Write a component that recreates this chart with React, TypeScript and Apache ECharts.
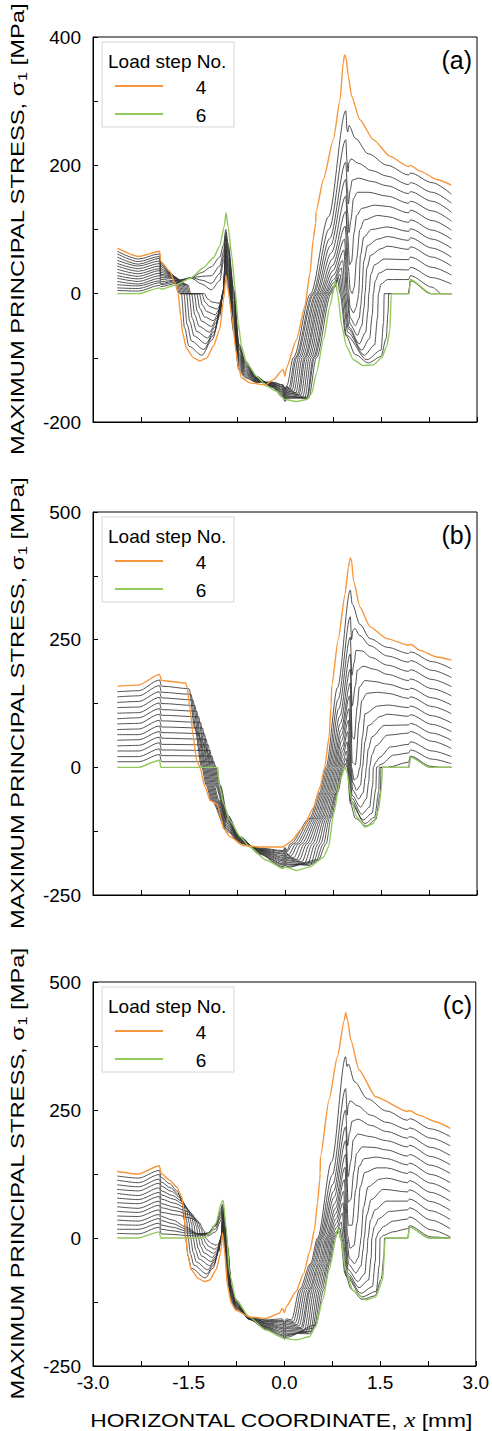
import React, { useEffect, useRef } from 'react';
import * as echarts from 'echarts';

// ---------- tick labels ----------
const X_LABELS = [-3, -1.5, 0, 1.5, 3];
const Y_LABELS_A = [-200, 0, 200, 400];
const Y_LABELS_BC = [-250, 0, 250, 500];
const LEGEND_STEPS = ['4', '6'];

// ---------- panel (a) ----------
const ORANGE_A = [[-2.62,71],[-2.29,58],[-1.96,66],[-1.94,50],[-1.80,35],[-1.72,17],[-1.67,1],[-1.63,-35],[-1.60,-61],[-1.54,-85],[-1.43,-100],[-1.33,-105],[-1.22,-100],[-1.12,-82],[-1.02,-56],[-0.96,-9],[-0.92,28],[-0.89,6],[-0.83,-35],[-0.77,-87],[-0.73,-113],[-0.68,-131],[-0.55,-139],[-0.31,-142],[-0.18,-134],[-0.03,-118],[0,-129],[0.02,-116],[0.18,-72],[0.31,-20],[0.39,32],[0.44,84],[0.48,110],[0.485,128],[0.6,178],[0.755,240],[0.86,302],[0.91,360],[0.93,372],[0.95,370],[0.99,339],[1.04,308],[1.17,271],[1.38,240],[1.64,214],[1.93,198],[1.96,200],[2.11,191],[2.37,178],[2.6,169]];
const GREEN_A = [[-2.62,0],[-2.29,0],[-1.96,9],[-1.93,7],[-1.69,14],[-1.48,24],[-1.28,40],[-1.12,56],[-1.02,74],[-0.95,105],[-0.92,126],[-0.89,105],[-0.83,58],[-0.78,6],[-0.73,-46],[-0.68,-82],[-0.60,-108],[-0.44,-129],[-0.29,-144],[-0.13,-152],[0,-165],[0.18,-168],[0.34,-165],[0.42,-155],[0.49,-124],[0.6,-72],[0.7,-20],[0.79,19],[0.82,1],[0.89,-51],[0.96,-82],[1.07,-103],[1.22,-112],[1.38,-111],[1.51,-100],[1.59,-82],[1.64,-56],[1.66,0],[1.94,0],[1.96,22],[2.28,0],[2.6,0]];
const GRAY_A = [
[[-2.62,66],[-2.29,54],[-1.96,62],[-1.94,48],[-1.80,33],[-1.70,14],[-1.65,0],[-1.62,0],[-1.57,-53],[-1.50,-82],[-1.30,-96],[-1.14,-72],[-1.015,-34],[-0.975,0],[-0.925,33],[-0.89,11],[-0.80,-60],[-0.72,-119],[-0.62,-131],[-0.45,-138],[-0.2,-138],[-0.03,-142],[0,-148],[0.03,-143],[0.13,-100],[0.40,0],[0.68,120],[0.95,285],[0.97,255],[0.98,252],[1.0,262],[1.1,242],[1.3,218],[1.6,200],[1.93,185],[1.96,188],[2.3,173],[2.6,155]],
[[-2.62,62],[-2.29,50],[-1.96,58],[-1.94,45],[-1.79,32],[-1.68,14],[-1.63,0],[-1.58,0],[-1.53,-48],[-1.46,-74],[-1.27,-87],[-1.12,-65],[-1.014,-30],[-0.974,0],[-0.925,38],[-0.89,16],[-0.80,-55],[-0.72,-116],[-0.62,-129],[-0.45,-138],[-0.2,-138],[-0.03,-143],[0,-149],[0.03,-144],[0.06,-147],[0.16,-100],[0.43,0],[0.69,101],[0.95,240],[0.97,205],[0.985,190],[1.0,205],[1.03,210],[1.15,203],[1.35,192],[1.6,183],[1.93,170],[1.96,173],[2.3,158],[2.6,141]],
[[-2.62,57],[-2.29,46],[-1.96,55],[-1.94,42],[-1.78,31],[-1.66,14],[-1.61,0],[-1.54,0],[-1.49,-43],[-1.42,-66],[-1.24,-78],[-1.105,-59],[-1.013,-27],[-0.973,0],[-0.925,43],[-0.89,21],[-0.80,-50],[-0.72,-113],[-0.62,-127],[-0.45,-137],[-0.2,-139],[-0.03,-145],[0,-151],[0.03,-146],[0.08,-149],[0.18,-100],[0.45,0],[0.70,86],[0.95,205],[0.975,165],[0.99,140],[1.02,162],[1.05,177],[1.15,180],[1.35,175],[1.6,168],[1.93,156],[1.96,159],[2.3,144],[2.6,127]],
[[-2.62,52],[-2.29,43],[-1.96,51],[-1.94,39],[-1.77,30],[-1.64,14],[-1.59,0],[-1.50,0],[-1.45,-38],[-1.38,-59],[-1.21,-69],[-1.09,-52],[-1.012,-24],[-0.972,0],[-0.925,48],[-0.89,26],[-0.80,-45],[-0.72,-110],[-0.62,-125],[-0.45,-136],[-0.2,-140],[-0.03,-146],[0,-152],[0.03,-147],[0.11,-150],[0.21,-100],[0.48,0],[0.71,75],[0.95,178],[0.98,125],[1.0,95],[1.03,115],[1.07,148],[1.13,158],[1.3,158],[1.6,152],[1.93,141],[1.96,144],[2.3,129],[2.6,113]],
[[-2.62,47],[-2.29,39],[-1.96,47],[-1.94,36],[-1.76,29],[-1.62,14],[-1.57,0],[-1.46,0],[-1.41,-33],[-1.34,-51],[-1.18,-60],[-1.075,-45],[-1.011,-21],[-0.971,0],[-0.925,53],[-0.89,31],[-0.80,-40],[-0.72,-107],[-0.62,-123],[-0.45,-136],[-0.2,-140],[-0.03,-148],[0,-154],[0.03,-149],[0.14,-152],[0.24,-100],[0.50,0],[0.725,64],[0.95,152],[0.98,90],[1.01,45],[1.04,50],[1.08,95],[1.12,122],[1.2,133],[1.4,138],[1.6,136],[1.93,126],[1.96,130],[2.3,114],[2.6,99]],
[[-2.62,43],[-2.29,35],[-1.96,43],[-1.94,33],[-1.75,28],[-1.60,14],[-1.55,0],[-1.42,0],[-1.37,-28],[-1.30,-43],[-1.15,-51],[-1.06,-38],[-1.01,-18],[-0.97,0],[-0.925,58],[-0.89,36],[-0.80,-35],[-0.72,-104],[-0.62,-121],[-0.45,-135],[-0.2,-141],[-0.03,-150],[0,-156],[0.03,-151],[0.17,-154],[0.27,-100],[0.526,0],[0.74,54],[0.95,128],[0.99,40],[1.02,5],[1.05,0],[1.08,10],[1.12,55],[1.17,100],[1.24,115],[1.45,122],[1.6,120],[1.93,111],[1.96,115],[2.3,99],[2.6,85]],
[[-2.62,38],[-2.29,31],[-1.96,39],[-1.94,30],[-1.74,27],[-1.58,14],[-1.53,0],[-1.38,0],[-1.33,-23],[-1.26,-36],[-1.12,-42],[-1.044,-32],[-1.008,-15],[-0.968,0],[-0.925,63],[-0.89,41],[-0.80,-30],[-0.72,-101],[-0.62,-119],[-0.45,-134],[-0.2,-142],[-0.03,-151],[0,-157],[0.03,-152],[0.20,-155],[0.30,-100],[0.55,0],[0.745,44],[0.94,105],[0.99,5],[1.02,-22],[1.07,-30],[1.11,-22],[1.135,-10],[1.15,0],[1.18,60],[1.23,88],[1.35,100],[1.6,104],[1.93,97],[1.96,101],[2.3,85],[2.6,71]],
[[-2.62,33],[-2.29,27],[-1.96,36],[-1.94,28],[-1.73,26],[-1.56,14],[-1.51,0],[-1.34,0],[-1.29,-18],[-1.22,-28],[-1.09,-33],[-1.03,-25],[-1.007,-12],[-0.967,0],[-0.925,68],[-0.89,46],[-0.80,-25],[-0.72,-98],[-0.62,-117],[-0.45,-133],[-0.2,-142],[-0.03,-153],[0,-159],[0.03,-154],[0.22,-157],[0.32,-100],[0.575,0],[0.75,36],[0.93,85],[0.975,0],[1.02,-38],[1.1,-50],[1.16,-38],[1.185,-18],[1.2,0],[1.23,50],[1.29,75],[1.45,85],[1.6,89],[1.93,83],[1.96,87],[2.3,71],[2.6,57]],
[[-2.62,28],[-2.29,23],[-1.96,32],[-1.94,25],[-1.72,25],[-1.54,14],[-1.49,0],[-1.30,0],[-1.25,-13],[-1.18,-20],[-1.06,-24],[-1.013,-18],[-0.995,-8],[-0.966,0],[-0.925,73],[-0.89,51],[-0.80,-20],[-0.72,-95],[-0.62,-115],[-0.45,-133],[-0.2,-143],[-0.03,-154],[0,-160],[0.03,-155],[0.25,-158],[0.35,-100],[0.60,0],[0.76,29],[0.92,68],[0.96,0],[1.02,-48],[1.13,-65],[1.2,-50],[1.235,-22],[1.25,0],[1.28,40],[1.34,60],[1.5,70],[1.6,74],[1.93,69],[1.96,73],[2.3,57],[2.6,43]],
[[-2.62,24],[-2.29,19],[-1.96,28],[-1.94,22],[-1.71,24],[-1.52,14],[-1.47,0],[-1.26,0],[-1.21,-8],[-1.14,-13],[-1.03,-15],[-0.997,-11],[-0.98,-5],[-0.965,0],[-0.925,78],[-0.89,56],[-0.80,-15],[-0.72,-92],[-0.62,-113],[-0.45,-132],[-0.2,-144],[-0.03,-156],[0,-162],[0.03,-157],[0.28,-160],[0.38,-100],[0.623,0],[0.76,22],[0.90,52],[0.94,0],[1.0,-52],[1.16,-78],[1.26,-60],[1.295,-28],[1.31,0],[1.34,30],[1.40,45],[1.55,54],[1.93,53],[1.96,57],[2.3,41],[2.6,29]],
[[-2.62,19],[-2.29,15],[-1.96,24],[-1.94,19],[-1.7,21],[-1.46,24],[-1.3,15],[-1.15,6],[-1.02,20],[-0.96,50],[-0.925,85],[-0.89,63],[-0.80,-8],[-0.72,-87],[-0.62,-111],[-0.45,-131],[-0.2,-144],[-0.03,-158],[0,-164],[0.03,-159],[0.31,-162],[0.41,-100],[0.648,0],[0.76,17],[0.88,40],[0.92,0],[0.99,-55],[1.2,-88],[1.32,-70],[1.365,-32],[1.38,0],[1.41,20],[1.47,32],[1.6,38],[1.93,37],[1.96,41],[2.3,25],[2.6,15]],
[[-2.62,14],[-2.29,12],[-1.96,20],[-1.94,16],[-1.7,20],[-1.46,25],[-1.3,21],[-1.15,16],[-1.02,31],[-0.96,58],[-0.925,90],[-0.89,68],[-0.80,-3],[-0.72,-84],[-0.62,-109],[-0.45,-131],[-0.2,-145],[-0.03,-159],[0,-165],[0.03,-160],[0.34,-163],[0.44,-100],[0.672,0],[0.77,13],[0.86,30],[0.90,0],[0.98,-60],[1.24,-96],[1.40,-80],[1.445,-38],[1.46,0],[1.5,15],[1.6,22],[1.93,22],[1.96,28],[2.3,10],[2.45,0],[2.6,0]],
[[-2.62,9],[-2.29,8],[-1.96,17],[-1.94,14],[-1.7,18],[-1.46,25],[-1.3,27],[-1.15,28],[-1.02,43],[-0.96,66],[-0.925,95],[-0.89,73],[-0.80,2],[-0.72,-81],[-0.62,-107],[-0.45,-130],[-0.2,-145],[-0.03,-161],[0,-167],[0.03,-162],[0.35,-161],[0.46,-100],[0.696,0],[0.77,10],[0.84,25],[0.88,0],[0.96,-65],[1.28,-103],[1.5,-88],[1.54,-45],[1.55,0],[1.93,0],[1.96,20],[2.28,0],[2.6,0]],
[[-2.62,5],[-2.29,4],[-1.96,13],[-1.94,11],[-1.7,16],[-1.46,25],[-1.3,33],[-1.15,42],[-1.02,57],[-0.96,76],[-0.925,100],[-0.89,78],[-0.80,7],[-0.72,-78],[-0.62,-105],[-0.45,-129],[-0.2,-146],[-0.03,-162],[0,-168],[0.03,-163],[0.37,-163],[0.49,-100],[0.72,0],[0.77,9],[0.82,22],[0.86,0],[0.95,-65],[1.1,-95],[1.3,-108],[1.5,-98],[1.58,-70],[1.61,-30],[1.62,0],[1.93,0],[1.96,21],[2.28,0],[2.6,0]]
];

// ---------- panel (b) ----------
const ORANGE_B = [[-2.62,159],[-2.29,161],[-1.96,182],[-1.93,170],[-1.55,165],[-1.53,157],[-1.48,112],[-1.44,66],[-1.38,14],[-1.33,0],[-1.25,-38],[-1.17,-65],[-1.07,-71],[-1.04,-78],[-1.0,-100],[-0.96,-120],[-0.86,-136],[-0.65,-153],[-0.39,-156],[-0.03,-156],[0,-153],[0.08,-146],[0.29,-117],[0.44,-80],[0.55,-38],[0.62,0],[0.69,60],[0.72,120],[0.73,160],[0.83,249],[0.94,340],[0.99,392],[1.02,410],[1.04,405],[1.07,366],[1.17,314],[1.33,275],[1.59,252],[1.93,239],[1.96,241],[2.11,229],[2.37,216],[2.6,210]];
const GREEN_B = [[-2.62,0],[-2.29,0],[-1.96,14],[-1.94,0],[-1.05,0],[-1.04,-20],[-1.02,-38],[-0.96,-71],[-0.86,-104],[-0.70,-136],[-0.55,-156],[-0.29,-182],[-0.03,-198],[0,-195],[0.18,-202],[0.39,-195],[0.6,-176],[0.68,-156],[0.76,-91],[0.86,-25],[0.94,1],[0.97,-10],[1.04,-65],[1.12,-97],[1.25,-117],[1.38,-110],[1.46,-84],[1.51,-38],[1.52,0],[1.94,0],[1.96,20],[2.27,0],[2.6,0]];
const GRAY_B = [
[[-2.62,148],[-2.29,150],[-1.96,171],[-1.93,159],[-1.50,154],[-1.41,77],[-1.30,0],[-1.23,-35],[-1.15,-65],[-0.9,-126],[-0.7,-149],[-0.4,-158],[-0.03,-163],[0,-157],[0.03,-163],[0.083,-150],[0.386,-100],[0.539,-50],[0.641,0],[0.82,156],[1.02,347],[1.05,320],[1.17,280],[1.33,252],[1.6,235],[1.93,223],[1.96,226],[2.3,207],[2.6,193]],
[[-2.62,138],[-2.29,140],[-1.96,160],[-1.93,147],[-1.47,143],[-1.39,72],[-1.283,0],[-1.213,-35],[-1.133,-65],[-0.9,-123],[-0.7,-148],[-0.4,-159],[-0.03,-165],[0,-159],[0.03,-165],[0.126,-150],[0.41,-100],[0.562,-50],[0.663,0],[0.83,133],[1.02,295],[1.04,250],[1.06,268],[1.09,272],[1.17,258],[1.33,238],[1.6,218],[1.93,206],[1.96,209],[2.3,190],[2.6,176]],
[[-2.62,127],[-2.29,129],[-1.96,148],[-1.93,136],[-1.44,132],[-1.36,66],[-1.266,0],[-1.196,-35],[-1.116,-65],[-0.9,-121],[-0.7,-147],[-0.4,-160],[-0.03,-168],[0,-162],[0.03,-168],[0.05,-172],[0.17,-150],[0.437,-100],[0.585,-50],[0.684,0],[0.84,115],[1.02,255],[1.045,180],[1.08,205],[1.11,229],[1.2,228],[1.35,215],[1.6,200],[1.93,188],[1.96,191],[2.3,172],[2.6,158]],
[[-2.62,117],[-2.29,118],[-1.96,137],[-1.93,125],[-1.41,121],[-1.34,61],[-1.249,0],[-1.179,-35],[-1.099,-65],[-0.9,-118],[-0.7,-146],[-0.4,-161],[-0.03,-170],[0,-164],[0.03,-170],[0.09,-174],[0.21,-150],[0.463,-100],[0.608,-50],[0.705,0],[0.855,100],[1.02,222],[1.05,120],[1.1,160],[1.13,190],[1.22,198],[1.4,192],[1.6,182],[1.93,170],[1.96,173],[2.3,154],[2.6,140]],
[[-2.62,106],[-2.29,107],[-1.96,126],[-1.93,113],[-1.38,110],[-1.32,55],[-1.232,0],[-1.162,-35],[-1.082,-65],[-0.9,-116],[-0.7,-145],[-0.4,-162],[-0.03,-173],[0,-167],[0.03,-173],[0.135,-177],[0.255,-150],[0.49,-100],[0.632,-50],[0.727,0],[0.865,86],[1.02,192],[1.05,60],[1.08,55],[1.13,120],[1.16,157],[1.25,170],[1.4,168],[1.6,163],[1.93,152],[1.96,155],[2.3,136],[2.6,122]],
[[-2.62,95],[-2.29,97],[-1.96,115],[-1.93,102],[-1.35,99],[-1.29,50],[-1.215,0],[-1.145,-35],[-1.065,-65],[-0.9,-113],[-0.7,-144],[-0.4,-162],[-0.03,-176],[0,-170],[0.03,-176],[0.18,-180],[0.30,-150],[0.514,-100],[0.654,-50],[0.748,0],[0.875,74],[1.02,165],[1.05,10],[1.1,5],[1.16,90],[1.20,131],[1.28,145],[1.45,147],[1.6,145],[1.93,135],[1.96,138],[2.3,119],[2.6,105]],
[[-2.62,85],[-2.29,86],[-1.96,104],[-1.93,91],[-1.32,88],[-1.27,44],[-1.198,0],[-1.128,-35],[-1.048,-65],[-0.9,-110],[-0.7,-143],[-0.4,-163],[-0.03,-178],[0,-172],[0.03,-178],[0.22,-182],[0.34,-150],[0.54,-100],[0.677,-50],[0.769,0],[0.88,63],[1.01,140],[1.04,0],[1.08,-25],[1.13,-20],[1.17,0],[1.21,60],[1.25,105],[1.45,120],[1.6,122],[1.93,117],[1.96,120],[2.3,101],[2.6,87]],
[[-2.62,74],[-2.29,75],[-1.96,92],[-1.93,79],[-1.29,77],[-1.24,39],[-1.181,0],[-1.111,-35],[-1.031,-65],[-0.9,-108],[-0.7,-142],[-0.4,-164],[-0.03,-181],[0,-175],[0.03,-181],[0.264,-185],[0.384,-150],[0.566,-100],[0.70,-50],[0.79,0],[0.885,52],[1.0,115],[1.03,0],[1.06,-30],[1.12,-45],[1.18,-35],[1.21,0],[1.25,50],[1.30,82],[1.5,100],[1.6,104],[1.93,100],[1.96,103],[2.3,84],[2.6,70]],
[[-2.62,64],[-2.29,64],[-1.96,81],[-1.93,68],[-1.26,66],[-1.22,33],[-1.164,0],[-1.094,-35],[-0.9,-105],[-0.7,-141],[-0.4,-165],[-0.03,-183],[0,-177],[0.03,-183],[0.307,-187],[0.427,-150],[0.59,-100],[0.723,-50],[0.812,0],[0.895,41],[0.99,92],[1.02,0],[1.06,-45],[1.15,-62],[1.22,-50],[1.255,-20],[1.27,0],[1.3,35],[1.36,60],[1.55,82],[1.93,83],[1.96,86],[2.3,67],[2.6,53]],
[[-2.62,53],[-2.29,54],[-1.96,70],[-1.93,57],[-1.23,55],[-1.20,28],[-1.147,0],[-1.077,-35],[-0.9,-103],[-0.7,-140],[-0.4,-166],[-0.03,-186],[0,-180],[0.03,-186],[0.35,-190],[0.47,-150],[0.617,-100],[0.747,-50],[0.833,0],[0.90,32],[0.98,70],[1.01,0],[1.05,-55],[1.18,-78],[1.27,-62],[1.31,-28],[1.32,0],[1.36,25],[1.42,42],[1.6,63],[1.93,67],[1.96,70],[2.3,51],[2.6,37]],
[[-2.62,42],[-2.29,43],[-1.96,59],[-1.93,45],[-1.20,44],[-1.17,22],[-1.13,0],[-1.06,-35],[-0.9,-100],[-0.7,-139],[-0.4,-167],[-0.03,-189],[0,-183],[0.03,-189],[0.393,-192],[0.513,-150],[0.643,-100],[0.77,-50],[0.854,0],[0.905,23],[0.97,50],[1.0,0],[1.04,-60],[1.2,-92],[1.32,-78],[1.37,-35],[1.38,0],[1.42,10],[1.48,20],[1.65,40],[1.93,45],[1.96,50],[2.3,32],[2.6,21]],
[[-2.62,32],[-2.29,32],[-1.96,48],[-1.93,34],[-1.17,33],[-1.15,17],[-1.113,0],[-1.043,-35],[-0.9,-98],[-0.7,-138],[-0.4,-168],[-0.03,-191],[0,-185],[0.03,-191],[0.436,-189],[0.556,-150],[0.67,-100],[0.794,-50],[0.876,0],[0.91,14],[0.96,32],[0.99,0],[1.03,-65],[1.22,-103],[1.36,-90],[1.42,-42],[1.43,0],[1.5,6],[1.7,24],[1.93,28],[1.96,34],[2.3,16],[2.6,7]],
[[-2.62,21],[-2.29,21],[-1.96,36],[-1.93,23],[-1.14,22],[-1.12,11],[-1.096,0],[-1.026,-35],[-0.9,-95],[-0.7,-137],[-0.4,-169],[-0.03,-194],[0,-188],[0.03,-194],[0.48,-185],[0.6,-150],[0.694,-100],[0.805,-50],[0.897,0],[0.915,8],[0.95,18],[0.98,0],[1.03,-70],[1.25,-110],[1.40,-98],[1.465,-48],[1.475,0],[1.6,0],[1.93,10],[1.96,22],[2.28,2],[2.4,0],[2.6,0]],
[[-2.62,11],[-2.29,11],[-1.96,25],[-1.93,11],[-1.11,11],[-1.10,6],[-1.079,0],[-1.01,-35],[-0.9,-93],[-0.7,-136],[-0.4,-170],[-0.03,-196],[0,-190],[0.03,-196],[0.52,-181],[0.642,-150],[0.72,-100],[0.82,-50],[0.918,0],[0.94,8],[0.97,0],[1.02,-70],[1.1,-100],[1.27,-115],[1.42,-102],[1.49,-50],[1.5,0],[1.93,0],[1.96,20],[2.27,0],[2.6,0]]
];

// ---------- panel (c) ----------
const ORANGE_C = [[-2.62,130],[-2.29,125],[-1.96,141],[-1.93,126],[-1.80,113],[-1.69,100],[-1.61,81],[-1.57,48],[-1.55,9],[-1.51,-36],[-1.46,-62],[-1.35,-79],[-1.25,-85],[-1.17,-82],[-1.07,-62],[-1.0,-30],[-0.97,10],[-0.94,-23],[-0.89,-95],[-0.83,-128],[-0.76,-141],[-0.55,-154],[-0.29,-157],[-0.08,-147],[-0.03,-137],[0,-146],[0.03,-134],[0.18,-105],[0.30,-70],[0.40,-25],[0.47,15],[0.52,70],[0.555,115],[0.56,126],[0.565,159],[0.70,270],[0.83,354],[0.94,426],[0.96,440],[0.99,426],[1.04,387],[1.17,328],[1.43,276],[1.93,247],[1.96,249],[2.11,240],[2.37,227],[2.6,214]];
const GREEN_C = [[-2.62,0],[-2.29,0],[-1.96,12],[-1.94,0],[-1.28,0],[-1.17,9],[-1.07,29],[-0.99,68],[-0.96,74],[-0.91,16],[-0.86,-69],[-0.76,-121],[-0.55,-154],[-0.29,-180],[0,-196],[0.18,-199],[0.39,-193],[0.49,-173],[0.6,-121],[0.70,-62],[0.84,18],[0.89,-4],[0.96,-62],[1.07,-102],[1.28,-121],[1.43,-115],[1.54,-82],[1.58,0],[1.94,0],[1.96,22],[2.27,0],[2.6,0]];
const GRAY_C = [
[[-2.62,121],[-2.29,117],[-1.96,132],[-1.93,118],[-1.797,106],[-1.683,92],[-1.607,71],[-1.569,35],[-1.55,0],[-1.51,-35],[-1.46,-59],[-1.24,-78],[-1.12,-59],[-1.03,-27],[-1.0,0],[-0.97,14],[-0.94,-11],[-0.89,-85],[-0.83,-124],[-0.76,-139],[-0.55,-155],[-0.29,-160],[-0.03,-158],[0,-164],[0.03,-158],[0.11,-160],[0.24,-100],[0.41,-50],[0.52,0],[0.74,149],[0.96,354],[0.98,335],[1.0,340],[1.1,305],[1.3,272],[1.6,248],[1.93,230],[1.96,233],[2.3,213],[2.6,198]],
[[-2.62,113],[-2.29,108],[-1.96,124],[-1.93,109],[-1.783,98],[-1.657,85],[-1.573,65],[-1.531,33],[-1.51,0],[-1.47,-32],[-1.42,-53],[-1.22,-70],[-1.109,-53],[-1.028,-25],[-0.998,0],[-0.97,18],[-0.94,-7],[-0.89,-79],[-0.83,-122],[-0.76,-137],[-0.55,-155],[-0.29,-161],[-0.03,-161],[0,-167],[0.03,-161],[0.14,-163],[0.27,-100],[0.43,-50],[0.54,0],[0.75,123],[0.96,292],[0.985,240],[1.0,260],[1.03,268],[1.15,258],[1.35,240],[1.6,226],[1.93,212],[1.96,215],[2.3,195],[2.6,180]],
[[-2.62,104],[-2.29,100],[-1.96,115],[-1.93,101],[-1.769,91],[-1.631,79],[-1.539,61],[-1.493,30],[-1.47,0],[-1.43,-28],[-1.38,-47],[-1.20,-62],[-1.098,-47],[-1.026,-22],[-0.996,0],[-0.97,22],[-0.94,-3],[-0.89,-74],[-0.83,-119],[-0.76,-136],[-0.55,-156],[-0.29,-163],[-0.03,-163],[0,-169],[0.03,-163],[0.17,-166],[0.30,-100],[0.456,-50],[0.56,0],[0.76,105],[0.96,250],[0.99,180],[1.02,205],[1.06,228],[1.15,232],[1.35,220],[1.6,208],[1.93,195],[1.96,198],[2.3,177],[2.6,161]],
[[-2.62,95],[-2.29,92],[-1.96,107],[-1.93,92],[-1.755,83],[-1.605,72],[-1.505,55],[-1.455,28],[-1.43,0],[-1.39,-24],[-1.34,-41],[-1.17,-54],[-1.082,-41],[-1.024,-19],[-0.994,0],[-0.97,26],[-0.94,1],[-0.89,-69],[-0.83,-117],[-0.76,-134],[-0.55,-156],[-0.29,-164],[-0.03,-166],[0,-172],[0.03,-166],[0.20,-169],[0.33,-100],[0.48,-50],[0.58,0],[0.77,91],[0.96,217],[1.0,120],[1.04,150],[1.08,192],[1.15,203],[1.35,198],[1.6,190],[1.93,178],[1.96,181],[2.3,159],[2.6,143]],
[[-2.62,87],[-2.29,83],[-1.96,98],[-1.93,84],[-1.741,76],[-1.579,66],[-1.471,50],[-1.417,25],[-1.39,0],[-1.35,-21],[-1.30,-35],[-1.15,-46],[-1.071,-35],[-1.022,-16],[-0.992,0],[-0.97,30],[-0.94,5],[-0.89,-63],[-0.83,-115],[-0.76,-133],[-0.55,-156],[-0.29,-166],[-0.03,-169],[0,-175],[0.03,-169],[0.23,-172],[0.36,-100],[0.504,-50],[0.60,0],[0.78,80],[0.96,190],[1.0,70],[1.04,75],[1.09,130],[1.13,165],[1.22,178],[1.4,177],[1.6,172],[1.93,160],[1.96,163],[2.3,142],[2.6,126]],
[[-2.62,78],[-2.29,75],[-1.96,89],[-1.93,76],[-1.727,68],[-1.553,59],[-1.437,46],[-1.379,23],[-1.35,0],[-1.31,-17],[-1.26,-29],[-1.13,-38],[-1.06,-29],[-1.02,-13],[-0.99,0],[-0.97,34],[-0.94,9],[-0.89,-58],[-0.83,-113],[-0.76,-132],[-0.55,-157],[-0.29,-167],[-0.03,-172],[0,-178],[0.03,-172],[0.26,-175],[0.39,-100],[0.531,-50],[0.625,0],[0.79,68],[0.96,163],[1.0,25],[1.06,25],[1.12,95],[1.17,140],[1.25,155],[1.45,158],[1.6,155],[1.93,143],[1.96,146],[2.3,124],[2.6,108]],
[[-2.62,69],[-2.29,67],[-1.96,81],[-1.93,67],[-1.713,60],[-1.527,52],[-1.403,40],[-1.341,20],[-1.31,0],[-1.27,-14],[-1.22,-23],[-1.11,-30],[-1.049,-23],[-1.018,-11],[-0.988,0],[-0.97,38],[-0.94,13],[-0.89,-53],[-0.83,-111],[-0.76,-130],[-0.55,-157],[-0.29,-168],[-0.03,-175],[0,-181],[0.03,-175],[0.28,-177],[0.41,-100],[0.554,-50],[0.65,0],[0.80,58],[0.95,138],[0.99,5],[1.03,-20],[1.09,-15],[1.14,30],[1.19,100],[1.26,128],[1.45,137],[1.6,137],[1.93,126],[1.96,129],[2.3,107],[2.6,90]],
[[-2.62,61],[-2.29,58],[-1.96,72],[-1.93,59],[-1.699,53],[-1.501,46],[-1.369,35],[-1.303,18],[-1.27,0],[-1.23,-10],[-1.18,-17],[-1.09,-22],[-1.038,-17],[-1.016,-8],[-0.986,0],[-0.97,42],[-0.94,17],[-0.89,-48],[-0.83,-108],[-0.76,-129],[-0.55,-157],[-0.29,-170],[-0.03,-177],[0,-183],[0.03,-177],[0.31,-180],[0.44,-100],[0.578,-50],[0.67,0],[0.805,48],[0.94,114],[0.975,0],[1.02,-40],[1.1,-50],[1.16,-38],[1.185,-15],[1.2,0],[1.24,60],[1.31,100],[1.5,115],[1.6,117],[1.93,108],[1.96,112],[2.3,89],[2.6,72]],
[[-2.62,52],[-2.29,50],[-1.96,64],[-1.93,50],[-1.685,45],[-1.475,39],[-1.335,30],[-1.265,15],[-1.23,0],[-1.19,-6],[-1.14,-11],[-1.07,-14],[-1.027,-11],[-1.014,-5],[-0.984,0],[-0.97,46],[-0.94,21],[-0.89,-42],[-0.83,-106],[-0.76,-127],[-0.55,-158],[-0.29,-171],[-0.03,-180],[0,-186],[0.03,-180],[0.34,-183],[0.47,-100],[0.602,-50],[0.69,0],[0.81,38],[0.93,91],[0.96,0],[1.01,-52],[1.12,-68],[1.2,-55],[1.235,-22],[1.25,0],[1.29,45],[1.36,75],[1.55,95],[1.93,90],[1.96,94],[2.3,71],[2.6,54]],
[[-2.62,43],[-2.29,42],[-1.96,55],[-1.93,42],[-1.75,35],[-1.55,22],[-1.35,8],[-1.2,4],[-1.08,12],[-1.0,33],[-0.97,50],[-0.94,25],[-0.89,-37],[-0.83,-104],[-0.76,-126],[-0.55,-158],[-0.29,-173],[-0.03,-183],[0,-189],[0.03,-183],[0.37,-185],[0.50,-100],[0.626,-50],[0.71,0],[0.815,29],[0.92,69],[0.95,0],[1.0,-62],[1.15,-85],[1.26,-70],[1.295,-30],[1.31,0],[1.35,35],[1.42,55],[1.6,72],[1.93,72],[1.96,76],[2.3,53],[2.6,36]],
[[-2.62,35],[-2.29,33],[-1.96,46],[-1.93,34],[-1.75,28],[-1.55,18],[-1.35,8],[-1.2,7],[-1.08,18],[-1.0,40],[-0.97,54],[-0.94,29],[-0.89,-32],[-0.83,-102],[-0.76,-125],[-0.55,-158],[-0.29,-174],[-0.03,-186],[0,-192],[0.03,-186],[0.40,-187],[0.53,-100],[0.65,-50],[0.73,0],[0.82,21],[0.91,49],[0.94,0],[0.99,-68],[1.17,-97],[1.32,-82],[1.36,-38],[1.37,0],[1.41,22],[1.48,38],[1.65,52],[1.93,55],[1.96,59],[2.3,35],[2.6,18]],
[[-2.62,26],[-2.29,25],[-1.96,38],[-1.93,25],[-1.75,21],[-1.55,14],[-1.35,8],[-1.2,9],[-1.08,23],[-1.0,45],[-0.97,58],[-0.94,33],[-0.89,-26],[-0.83,-100],[-0.76,-123],[-0.55,-159],[-0.29,-175],[-0.03,-189],[0,-195],[0.03,-189],[0.43,-182],[0.56,-100],[0.674,-50],[0.75,0],[0.82,13],[0.89,31],[0.92,0],[0.98,-72],[1.2,-108],[1.38,-95],[1.425,-45],[1.435,0],[1.48,12],[1.55,22],[1.7,33],[1.93,37],[1.96,41],[2.3,16],[2.6,2]],
[[-2.62,17],[-2.29,17],[-1.96,29],[-1.93,17],[-1.75,14],[-1.55,10],[-1.35,7],[-1.2,10],[-1.08,26],[-1.0,50],[-0.97,62],[-0.94,37],[-0.89,-21],[-0.83,-97],[-0.76,-122],[-0.55,-159],[-0.29,-177],[-0.03,-191],[0,-197],[0.03,-191],[0.46,-176],[0.59,-100],[0.69,-50],[0.77,0],[0.82,8],[0.87,20],[0.90,0],[0.97,-75],[1.22,-115],[1.44,-104],[1.49,-52],[1.50,0],[1.55,5],[1.7,12],[1.93,18],[1.96,24],[2.3,2],[2.6,0]],
[[-2.62,9],[-2.29,8],[-1.96,21],[-1.93,8],[-1.75,7],[-1.55,5],[-1.35,4],[-1.2,8],[-1.08,24],[-1.0,55],[-0.97,66],[-0.94,41],[-0.89,-16],[-0.83,-95],[-0.76,-120],[-0.55,-159],[-0.29,-178],[-0.03,-194],[0,-198],[0.03,-194],[0.49,-170],[0.62,-100],[0.71,-50],[0.79,0],[0.85,14],[0.88,0],[0.95,-70],[1.05,-100],[1.22,-120],[1.42,-113],[1.52,-80],[1.56,-35],[1.57,0],[1.93,0],[1.96,21],[2.27,0],[2.6,0]]
];

const FONT = '"Liberation Sans", Arial, Helvetica, sans-serif';
const ORANGE = '#F7963A';
const GREEN = '#92C85C';
const GRAY = '#333333';

const PANELS = [
  { top: 37, height: 385, min: -200, max: 400, interval: 100, labels: Y_LABELS_A, tag: '(a)', orange: ORANGE_A, green: GREEN_A, gray: GRAY_A, showX: false },
  { top: 512, height: 383, min: -250, max: 500, interval: 125, labels: Y_LABELS_BC, tag: '(b)', orange: ORANGE_B, green: GREEN_B, gray: GRAY_B, showX: false },
  { top: 982, height: 384, min: -250, max: 500, interval: 125, labels: Y_LABELS_BC, tag: '(c)', orange: ORANGE_C, green: GREEN_C, gray: GRAY_C, showX: true },
];

const LEFT = 93;
const WIDTH = 384;

function buildOption() {
  const grid: any[] = [];
  const xAxis: any[] = [];
  const yAxis: any[] = [];
  const series: any[] = [];
  const graphic: any[] = [];

  PANELS.forEach((p, i) => {
    grid.push({ left: LEFT, top: p.top, width: WIDTH, height: p.height, show: true, borderColor: '#000', borderWidth: 1, backgroundColor: 'transparent' });
    xAxis.push({
      type: 'value', gridIndex: i, min: -3, max: 3, interval: 0.75,
      axisLine: { show: true, onZero: false, lineStyle: { color: '#000', width: 1 } },
      axisTick: { show: true, inside: true, length: 5, lineStyle: { color: '#000' } },
      splitLine: { show: false },
      axisLabel: {
        show: p.showX, margin: 7, color: '#000', fontSize: 19, fontFamily: FONT,
        showMinLabel: true, showMaxLabel: true,
        formatter: (v: number) => {
          const hit = X_LABELS.find((t) => Math.abs(t - v) < 1e-6);
          return hit === undefined ? '' : hit.toFixed(1);
        },
      },
    });
    yAxis.push({
      type: 'value', gridIndex: i, min: p.min, max: p.max, interval: p.interval,
      axisLine: { show: true, onZero: false, lineStyle: { color: '#000', width: 1 } },
      axisTick: { show: true, inside: true, length: 5, lineStyle: { color: '#000' } },
      splitLine: { show: false },
      axisLabel: {
        show: true, margin: 12, color: '#000', fontSize: 19, fontFamily: FONT,
        showMinLabel: true, showMaxLabel: true,
        formatter: (v: number) => (p.labels.some((t) => Math.abs(t - v) < 1e-6) ? String(Math.round(v)) : ''),
      },
    });

    p.gray.forEach((curve) => {
      series.push({
        type: 'line', xAxisIndex: i, yAxisIndex: i, data: curve, showSymbol: false, symbol: 'none',
        silent: true, z: 2, smooth: 0.3, smoothMonotone: 'x', lineStyle: { color: GRAY, width: 0.85 },
      });
    });
    series.push({ type: 'line', xAxisIndex: i, yAxisIndex: i, data: p.green, showSymbol: false, symbol: 'none', silent: true, z: 3, smooth: 0.2, smoothMonotone: 'x', lineStyle: { color: GREEN, width: 1.4 } });
    series.push({ type: 'line', xAxisIndex: i, yAxisIndex: i, data: p.orange, showSymbol: false, symbol: 'none', silent: true, z: 4, smooth: 0.2, smoothMonotone: 'x', lineStyle: { color: ORANGE, width: 1.4 } });

    const T = p.top;
    graphic.push(
      { type: 'rect', z: 100, shape: { x: 102, y: T + 5, width: 132, height: 85 }, style: { fill: '#fff', stroke: '#d6d6d6', lineWidth: 1 } },
      { type: 'text', z: 101, x: 108, y: T + 24, style: { text: 'Load step No.', fill: '#000', fontSize: 19, fontFamily: FONT, align: 'left', verticalAlign: 'middle' } },
      { type: 'line', z: 101, shape: { x1: 115, y1: T + 49, x2: 163, y2: T + 49 }, style: { stroke: ORANGE, lineWidth: 2 } },
      { type: 'text', z: 101, x: 201, y: T + 50, style: { text: LEGEND_STEPS[0], fill: '#000', fontSize: 19, fontFamily: FONT, align: 'center', verticalAlign: 'middle' } },
      { type: 'line', z: 101, shape: { x1: 115, y1: T + 77, x2: 163, y2: T + 77 }, style: { stroke: GREEN, lineWidth: 2 } },
      { type: 'text', z: 101, x: 201, y: T + 78, style: { text: LEGEND_STEPS[1], fill: '#000', fontSize: 19, fontFamily: FONT, align: 'center', verticalAlign: 'middle' } },
      { type: 'text', z: 101, x: 472, y: T + 23, style: { text: p.tag, fill: '#000', fontSize: 25, fontFamily: FONT, align: 'right', verticalAlign: 'middle' } },
      {
        type: 'text', z: 101, x: 18, y: T + p.height / 2, rotation: Math.PI / 2, scaleX: 1.25,
        style: {
          text: 'MAXIMUM PRINCIPAL STRESS, σ{s|1} [MPa]', fill: '#000', fontSize: 19, fontFamily: FONT,
          align: 'center', verticalAlign: 'middle',
          rich: { s: { fontSize: 13, fontFamily: FONT, fill: '#000', padding: [9, 0, 0, 0] } },
        },
      },
    );
  });

  graphic.push({
    type: 'text', z: 101, x: 281, y: 1420, scaleX: 1.2,
    style: {
      text: 'HORIZONTAL COORDINATE, {i|x} [mm]', fill: '#000', fontSize: 19, fontFamily: FONT,
      align: 'center', verticalAlign: 'middle',
      rich: { i: { fontSize: 21, fontFamily: '"Liberation Serif", "Times New Roman", serif', fontStyle: 'italic', fill: '#000' } },
    },
  });

  return {
    animation: false,
    backgroundColor: '#fff',
    textStyle: { fontFamily: FONT },
    grid, xAxis, yAxis, series, graphic,
  };
}

export default function App() {
  const ref = useRef<HTMLDivElement>(null);
  useEffect(() => {
    if (!ref.current) return;
    const chart = echarts.init(ref.current, null, { renderer: 'svg' });
    chart.setOption(buildOption() as any);
    return () => chart.dispose();
  }, []);
  return <div ref={ref} style={{ position: 'absolute', left: 0, top: 0, width: 492, height: 1431 }} />;
}
